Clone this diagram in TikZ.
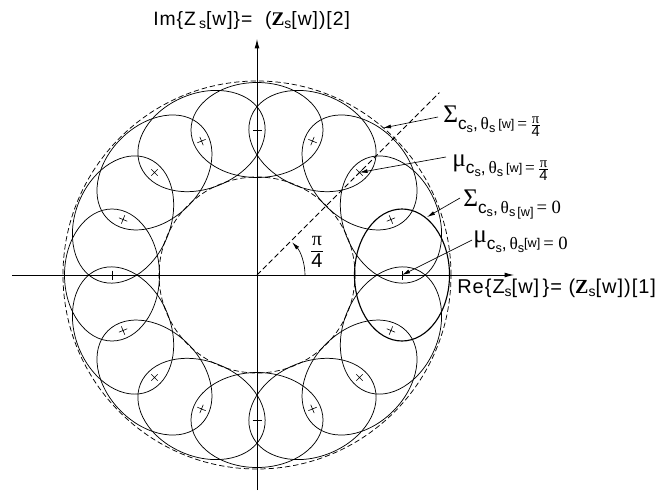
\documentclass[tikz,border=0pt]{standalone}
\usepackage{fontspec}
\setmainfont{Liberation Sans}
\newfontfamily\grk{Liberation Serif}
\newfontfamily\widesans[LetterSpace=5]{Liberation Sans}
\newfontfamily\widegrk[LetterSpace=5]{Liberation Serif}
\usetikzlibrary{arrows.meta,calc}
\newcommand{\subs}[1]{\raisebox{-2.6pt}{\fontsize{9.5}{9.5}\selectfont #1}}
\newcommand{\wbr}{\fontsize{9.5}{9.5}\selectfont[w]}
\newcommand{\frc}{\ensuremath{\frac{\mbox{\grk\fontsize{11}{11}\selectfont π}}{\mbox{\fontsize{11}{11}\selectfont 4}}}}
\newcommand{\biggrk}[1]{{\grk\fontsize{19}{19}\selectfont #1}}
\newcommand{\subtxt}[1]{\raisebox{-5.5pt}{\fontsize{13}{13}\selectfont #1}}
\newcommand{\ssub}{\raisebox{-2.5pt}{\fontsize{10.5}{10.5}\selectfont s}}
\begin{document}
\begin{tikzpicture}[x=0.75pt,y=0.75pt,
  axis/.style={line width=0.6pt,-{Latex[length=7pt,width=3.6pt]}},
  ell/.style={line width=0.55pt},
  boldell/.style={line width=0.85pt},
  dsh/.style={line width=0.55pt,dash pattern=on 4pt off 2.2pt},
  pointer/.style={line width=0.5pt,-{Latex[length=6pt,width=3pt]}},
  meanmark/.style={line width=0.45pt},
  lbl/.style={inner sep=0pt,anchor=base west}]
\useasboundingbox (0,0) rectangle (659,494);
\coordinate (O) at (257,219);
% axes
\coordinate (xl) at (12,219);
\coordinate (xr) at (514,219);
\coordinate (yb) at (257,4);
\coordinate (yt) at (257,455);
\draw[axis] (xl) -- (xr);
\draw[axis] (yb) -- (yt);
% dashed circles and line
\draw[dsh] (O) circle[radius=194];
\draw[dsh] (O) circle[radius=98];
\draw[dsh] (O) -- ++(45:258) coordinate (dl);
% ellipses and means
\foreach \k in {0,...,15}{
  \pgfmathsetmacro{\ang}{22.5*\k}
  \begin{scope}[shift={(O)},rotate=\ang]
    \ifnum\k=0
      \draw[boldell] (145,0) ellipse[x radius=47.5,y radius=66];
    \else
      \draw[ell] (145,0) ellipse[x radius=47.5,y radius=66];
    \fi
    \draw[meanmark] (140.5,0) -- (149.5,0) (145,-4.5) -- (145,4.5);
    \coordinate (m\k) at (145,0);
  \end{scope}
}
% angle
\draw[pointer] ($(O)+(48,0)$) arc[start angle=0,end angle=43,radius=48];
\node[inner sep=0pt] (pi4) at (317,242) {$\displaystyle\frac{\mbox{\grk\fontsize{15}{15}\selectfont π}}{\mbox{\fontsize{15}{15}\selectfont 4}}$};
% axis labels
\node[lbl] (imlab) at (153,469) {\fontsize{14.5}{14.5}\selectfont\widesans Im\{Z\,\ssub[w]\}=~~({\widegrk\bfseries Z}\ssub[w])[2]};
\node[lbl] (relab) at (457,201) {\fontsize{15}{15}\selectfont\widesans Re\{Z\ssub[w]\,\}= ({\widegrk\bfseries Z}\ssub[w])[1]};
% annotation labels
\node[lbl] (l1) at (443,372) {\biggrk{Σ}\subtxt{c\subs{s},\,{\grk θ}\subs{s}\,\raisebox{1pt}{\wbr}\,{\grk =}\,\frc}};
\node[lbl] (l2) at (452,328) {\biggrk{μ}\subtxt{c\subs{s},\,{\grk θ}\subs{s}\,\raisebox{1pt}{\wbr}\,{\grk =}\,\frc}};
\node[lbl] (l3) at (463,288) {\biggrk{Σ}\subtxt{c\subs{s},\,{\grk θ}\subs{s\,[w]}\,{\grk\fontsize{14}{14}\selectfont = 0}}};
\node[lbl] (l4) at (473,252) {\biggrk{μ}\subtxt{c\subs{s},\,{\grk θ}\subs{s}\raisebox{1.5pt}{\wbr}\,{\grk\fontsize{14}{14}\selectfont = 0}}};
% pointers
\coordinate (s1) at (438,377);
\coordinate (t1) at (383,366);
\coordinate (s2) at (446,337);
\coordinate (s3) at (460,296);
\coordinate (t3) at (427,277);
\coordinate (s4) at (472,254);
\draw[pointer] (s1) -- (t1);
\draw[pointer] (s2) -- (m2);
\draw[pointer] (s3) -- (t3);
\draw[pointer] (s4) -- (m0);
\end{tikzpicture}
\end{document}
